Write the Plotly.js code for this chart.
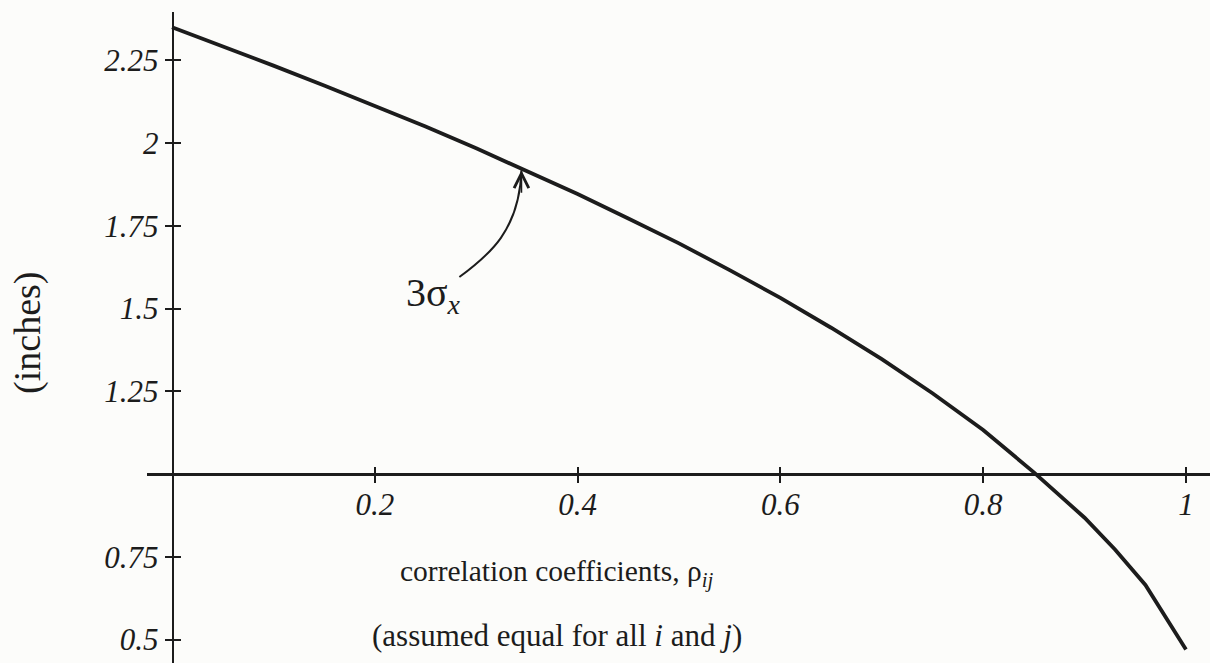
<!DOCTYPE html>
<html>
<head>
<meta charset="utf-8">
<script src="https://cdn.plot.ly/plotly-3.0.1.min.js"></script>
<style>
  html, body { margin: 0; padding: 0; background: #fcfcfa; }
  #chart { width: 1210px; height: 663px; }
</style>
</head>
<body>
<div id="chart"></div>
<script>
// 3-sigma spread (inches) against the common correlation coefficient rho
const rho = [0, 0.05, 0.1, 0.15, 0.2, 0.25, 0.3, 0.35, 0.4, 0.45, 0.5, 0.55, 0.6,
             0.65, 0.7, 0.75, 0.8, 0.85, 0.9, 0.93, 0.96, 1.0];
const sigma3 = [2.35, 2.293, 2.234, 2.174, 2.112, 2.05, 1.984, 1.916, 1.846, 1.772,
                1.697, 1.616, 1.532, 1.442, 1.347, 1.244, 1.133, 1.005, 0.868, 0.772,
                0.665, 0.47];

const xTickVals = [0.2, 0.4, 0.6, 0.8, 1];
const xTickText = ['0.2', '0.4', '0.6', '0.8', '1'];
const yTickVals = [0.5, 0.75, 1.25, 1.5, 1.75, 2, 2.25];
const yTickText = ['0.5', '0.75', '1.25', '1.5', '1.75', '2', '2.25'];

// where the 3-sigma label's arrow meets the curve
const arrowTip = { x: 0.3446, y: 1.918 };

const ink = '#1c1c1c';
const serif = 'Liberation Serif, Times New Roman, serif';
const xRange = [-0.0247, 1.0237];
const yRange = [0.429, 2.396];
const xAxisPos = 0.2903;   // x axis crosses at y = 1
const yAxisPos = 0.0241;   // y axis crosses at x = 0

const tickFont = { family: serif, size: 31, color: ink, style: 'italic' };

const traces = [
  {
    x: rho, y: sigma3, mode: 'lines', type: 'scatter',
    line: { color: ink, width: 3.8 },
    hoverinfo: 'x+y', showlegend: false
  },
  // empty trace that carries the overlay axes (inner half of the cross ticks)
  { x: [], y: [], xaxis: 'x2', yaxis: 'y2', type: 'scatter', mode: 'lines',
    hoverinfo: 'skip', showlegend: false }
];

const baseX = {
  range: xRange, anchor: 'free', position: xAxisPos,
  showgrid: false, zeroline: false,
  tickmode: 'array', tickvals: xTickVals, ticktext: xTickText,
  tickcolor: ink, tickwidth: 2, ticklen: 7, fixedrange: true
};
const baseY = {
  range: yRange, anchor: 'free', position: yAxisPos,
  showgrid: false, zeroline: false,
  tickmode: 'array', tickvals: yTickVals, ticktext: yTickText,
  tickcolor: ink, tickwidth: 2, ticklen: 7, fixedrange: true
};

const layout = {
  width: 1210, height: 663,
  margin: { l: 147, r: 0, t: 12, b: 0 },
  paper_bgcolor: '#fcfcfa', plot_bgcolor: 'rgba(0,0,0,0)',
  showlegend: false,
  xaxis: Object.assign({}, baseX, {
    ticks: 'outside', showline: true, linecolor: ink, linewidth: 2.6,
    tickfont: tickFont, ticklabelstandoff: -5
  }),
  yaxis: Object.assign({}, baseY, {
    ticks: 'outside', showline: true, linecolor: ink, linewidth: 2.6,
    tickfont: tickFont
  }),
  xaxis2: Object.assign({}, baseX, {
    overlaying: 'x', ticks: 'inside', showline: false, showticklabels: false
  }),
  yaxis2: Object.assign({}, baseY, {
    overlaying: 'y', ticks: 'inside', showline: false, showticklabels: false
  }),
  shapes: [
    // curved leader from the label up to the curve
    {
      type: 'path', xref: 'x', yref: 'y',
      path: 'M 0.2834,1.5952 C 0.3130,1.6616 0.3426,1.7372 ' + arrowTip.x + ',' + arrowTip.y,
      line: { color: ink, width: 2 }
    }
  ],
  annotations: [
    {
      x: arrowTip.x, y: arrowTip.y, xref: 'x', yref: 'y',
      showarrow: true, arrowhead: 5, arrowsize: 1.8, arrowwidth: 1.6,
      arrowcolor: ink, ax: 0, ay: 24, text: ''
    },
    {
      x: 0.2578, y: 1.54, xref: 'x', yref: 'y', xanchor: 'center', yanchor: 'middle',
      text: '3σ<sub><i>x</i></sub>', showarrow: false,
      font: { family: serif, size: 40, color: ink }
    },
    {
      x: 0.3857, y: 0.138, xref: 'paper', yref: 'paper',
      xanchor: 'center', yanchor: 'middle',
      text: 'correlation coefficients, ρ<sub><i>ij</i></sub>', showarrow: false,
      font: { family: serif, size: 29.5, color: ink }
    },
    {
      x: 0.3857, y: 0.0415, xref: 'paper', yref: 'paper',
      xanchor: 'center', yanchor: 'middle',
      text: '(assumed equal for all <i>i</i> and <i>j</i>)', showarrow: false,
      font: { family: serif, size: 31, color: ink }
    },
    {
      x: -0.112, y: 0.507, xref: 'paper', yref: 'paper',
      xanchor: 'center', yanchor: 'middle',
      text: '(inches)', textangle: -90, showarrow: false,
      font: { family: serif, size: 38, color: ink }
    }
  ]
};

Plotly.newPlot('chart', traces, layout, { displayModeBar: false, staticPlot: true });
</script>
</body>
</html>
